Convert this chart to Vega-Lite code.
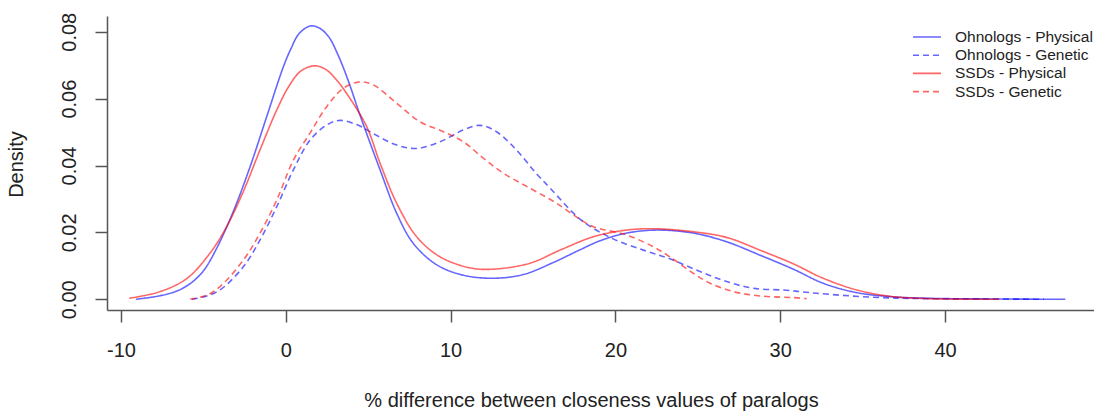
{
  "$schema": "https://vega.github.io/schema/vega-lite/v6.json",
  "width": 987,
  "height": 294,
  "autosize": {"type": "none"},
  "padding": {"left": 107, "top": 16, "right": 0, "bottom": 101},
  "background": "white",
  "config": {
    "view": {"stroke": null},
    "font": "Liberation Sans"
  },
  "datasets": {
    "curves": [
      {"series": "Ohnologs - Physical", "x": -9.1, "density": 0.0},
      {"series": "Ohnologs - Physical", "x": -7.6, "density": 0.0011},
      {"series": "Ohnologs - Physical", "x": -6.6, "density": 0.0025},
      {"series": "Ohnologs - Physical", "x": -5.8, "density": 0.0047},
      {"series": "Ohnologs - Physical", "x": -5.0, "density": 0.0085},
      {"series": "Ohnologs - Physical", "x": -4.2, "density": 0.0152},
      {"series": "Ohnologs - Physical", "x": -3.19, "density": 0.0262},
      {"series": "Ohnologs - Physical", "x": -2.17, "density": 0.0396},
      {"series": "Ohnologs - Physical", "x": -1.16, "density": 0.0546},
      {"series": "Ohnologs - Physical", "x": -0.15, "density": 0.0695},
      {"series": "Ohnologs - Physical", "x": 0.3, "density": 0.0748},
      {"series": "Ohnologs - Physical", "x": 0.8, "density": 0.0794},
      {"series": "Ohnologs - Physical", "x": 1.47, "density": 0.0817},
      {"series": "Ohnologs - Physical", "x": 2.0, "density": 0.0812},
      {"series": "Ohnologs - Physical", "x": 2.6, "density": 0.0785},
      {"series": "Ohnologs - Physical", "x": 3.2, "density": 0.0727},
      {"series": "Ohnologs - Physical", "x": 3.8, "density": 0.0652},
      {"series": "Ohnologs - Physical", "x": 4.5, "density": 0.0551},
      {"series": "Ohnologs - Physical", "x": 5.72, "density": 0.0387},
      {"series": "Ohnologs - Physical", "x": 6.73, "density": 0.0257},
      {"series": "Ohnologs - Physical", "x": 7.74, "density": 0.0167},
      {"series": "Ohnologs - Physical", "x": 9.16, "density": 0.0103},
      {"series": "Ohnologs - Physical", "x": 10.77, "density": 0.0072},
      {"series": "Ohnologs - Physical", "x": 12.59, "density": 0.0063},
      {"series": "Ohnologs - Physical", "x": 14.41, "density": 0.0074},
      {"series": "Ohnologs - Physical", "x": 16.23, "density": 0.011},
      {"series": "Ohnologs - Physical", "x": 17.85, "density": 0.0148},
      {"series": "Ohnologs - Physical", "x": 19.07, "density": 0.0175},
      {"series": "Ohnologs - Physical", "x": 20.69, "density": 0.0198},
      {"series": "Ohnologs - Physical", "x": 22.5, "density": 0.0207},
      {"series": "Ohnologs - Physical", "x": 24.72, "density": 0.0198},
      {"series": "Ohnologs - Physical", "x": 26.75, "density": 0.0172},
      {"series": "Ohnologs - Physical", "x": 28.77, "density": 0.0132},
      {"series": "Ohnologs - Physical", "x": 30.8, "density": 0.009},
      {"series": "Ohnologs - Physical", "x": 32.6, "density": 0.0048},
      {"series": "Ohnologs - Physical", "x": 34.64, "density": 0.002},
      {"series": "Ohnologs - Physical", "x": 36.66, "density": 0.0008},
      {"series": "Ohnologs - Physical", "x": 39.0, "density": 0.0003},
      {"series": "Ohnologs - Physical", "x": 43.0, "density": 0.0001},
      {"series": "Ohnologs - Physical", "x": 47.3, "density": 0.0},

      {"series": "Ohnologs - Genetic", "x": -5.7, "density": 0.0},
      {"series": "Ohnologs - Genetic", "x": -4.8, "density": 0.001},
      {"series": "Ohnologs - Genetic", "x": -3.99, "density": 0.0028},
      {"series": "Ohnologs - Genetic", "x": -2.58, "density": 0.0097},
      {"series": "Ohnologs - Genetic", "x": -1.57, "density": 0.0177},
      {"series": "Ohnologs - Genetic", "x": -0.55, "density": 0.0277},
      {"series": "Ohnologs - Genetic", "x": 0.46, "density": 0.0387},
      {"series": "Ohnologs - Genetic", "x": 1.47, "density": 0.0476},
      {"series": "Ohnologs - Genetic", "x": 2.48, "density": 0.0521},
      {"series": "Ohnologs - Genetic", "x": 3.29, "density": 0.0535},
      {"series": "Ohnologs - Genetic", "x": 4.5, "density": 0.0518},
      {"series": "Ohnologs - Genetic", "x": 5.11, "density": 0.0501},
      {"series": "Ohnologs - Genetic", "x": 6.73, "density": 0.0461},
      {"series": "Ohnologs - Genetic", "x": 7.94, "density": 0.0451},
      {"series": "Ohnologs - Genetic", "x": 9.36, "density": 0.0471},
      {"series": "Ohnologs - Genetic", "x": 10.77, "density": 0.0506},
      {"series": "Ohnologs - Genetic", "x": 11.78, "density": 0.052},
      {"series": "Ohnologs - Genetic", "x": 12.79, "density": 0.0501},
      {"series": "Ohnologs - Genetic", "x": 14.0, "density": 0.0446},
      {"series": "Ohnologs - Genetic", "x": 15.22, "density": 0.0375},
      {"series": "Ohnologs - Genetic", "x": 16.03, "density": 0.0333},
      {"series": "Ohnologs - Genetic", "x": 17.85, "density": 0.024},
      {"series": "Ohnologs - Genetic", "x": 19.67, "density": 0.0185},
      {"series": "Ohnologs - Genetic", "x": 21.7, "density": 0.0147},
      {"series": "Ohnologs - Genetic", "x": 23.3, "density": 0.0121},
      {"series": "Ohnologs - Genetic", "x": 25.13, "density": 0.0083},
      {"series": "Ohnologs - Genetic", "x": 26.75, "density": 0.0053},
      {"series": "Ohnologs - Genetic", "x": 28.36, "density": 0.0033},
      {"series": "Ohnologs - Genetic", "x": 30.39, "density": 0.0027},
      {"series": "Ohnologs - Genetic", "x": 32.2, "density": 0.0018},
      {"series": "Ohnologs - Genetic", "x": 35.65, "density": 0.0006},
      {"series": "Ohnologs - Genetic", "x": 38.7, "density": 0.0002},
      {"series": "Ohnologs - Genetic", "x": 42.7, "density": 0.0001},
      {"series": "Ohnologs - Genetic", "x": 46.0, "density": 0.0},

      {"series": "SSDs - Physical", "x": -9.5, "density": 0.0003},
      {"series": "SSDs - Physical", "x": -7.63, "density": 0.0023},
      {"series": "SSDs - Physical", "x": -6.01, "density": 0.0062},
      {"series": "SSDs - Physical", "x": -4.6, "density": 0.0138},
      {"series": "SSDs - Physical", "x": -3.59, "density": 0.0217},
      {"series": "SSDs - Physical", "x": -2.58, "density": 0.0322},
      {"series": "SSDs - Physical", "x": -1.57, "density": 0.0446},
      {"series": "SSDs - Physical", "x": -0.55, "density": 0.0566},
      {"series": "SSDs - Physical", "x": 0.2, "density": 0.0638},
      {"series": "SSDs - Physical", "x": 0.9, "density": 0.0682},
      {"series": "SSDs - Physical", "x": 1.71, "density": 0.0698},
      {"series": "SSDs - Physical", "x": 2.4, "density": 0.0688},
      {"series": "SSDs - Physical", "x": 3.09, "density": 0.0655},
      {"series": "SSDs - Physical", "x": 3.9, "density": 0.0600},
      {"series": "SSDs - Physical", "x": 4.91, "density": 0.0516},
      {"series": "SSDs - Physical", "x": 5.72, "density": 0.0407},
      {"series": "SSDs - Physical", "x": 6.73, "density": 0.0287},
      {"series": "SSDs - Physical", "x": 7.94, "density": 0.0187},
      {"series": "SSDs - Physical", "x": 9.36, "density": 0.0127},
      {"series": "SSDs - Physical", "x": 11.18, "density": 0.0094},
      {"series": "SSDs - Physical", "x": 12.59, "density": 0.009},
      {"series": "SSDs - Physical", "x": 14.82, "density": 0.0108},
      {"series": "SSDs - Physical", "x": 16.64, "density": 0.0147},
      {"series": "SSDs - Physical", "x": 18.66, "density": 0.0187},
      {"series": "SSDs - Physical", "x": 20.69, "density": 0.0207},
      {"series": "SSDs - Physical", "x": 22.3, "density": 0.0211},
      {"series": "SSDs - Physical", "x": 24.72, "density": 0.0202},
      {"series": "SSDs - Physical", "x": 26.75, "density": 0.0185},
      {"series": "SSDs - Physical", "x": 28.77, "density": 0.0147},
      {"series": "SSDs - Physical", "x": 30.8, "density": 0.0106},
      {"series": "SSDs - Physical", "x": 32.6, "density": 0.0063},
      {"series": "SSDs - Physical", "x": 34.64, "density": 0.0028},
      {"series": "SSDs - Physical", "x": 36.66, "density": 0.0009},
      {"series": "SSDs - Physical", "x": 39.0, "density": 0.0002},
      {"series": "SSDs - Physical", "x": 43.3, "density": 0.0},

      {"series": "SSDs - Genetic", "x": -5.8, "density": 0.0},
      {"series": "SSDs - Genetic", "x": -4.8, "density": 0.0012},
      {"series": "SSDs - Genetic", "x": -3.99, "density": 0.0038},
      {"series": "SSDs - Genetic", "x": -2.58, "density": 0.0117},
      {"series": "SSDs - Genetic", "x": -1.57, "density": 0.0197},
      {"series": "SSDs - Genetic", "x": -0.55, "density": 0.0297},
      {"series": "SSDs - Genetic", "x": 0.46, "density": 0.0416},
      {"series": "SSDs - Genetic", "x": 1.47, "density": 0.0497},
      {"series": "SSDs - Genetic", "x": 2.48, "density": 0.0576},
      {"series": "SSDs - Genetic", "x": 3.49, "density": 0.0631},
      {"series": "SSDs - Genetic", "x": 4.5, "density": 0.065},
      {"series": "SSDs - Genetic", "x": 5.31, "density": 0.0641},
      {"series": "SSDs - Genetic", "x": 6.73, "density": 0.0586},
      {"series": "SSDs - Genetic", "x": 8.14, "density": 0.0531},
      {"series": "SSDs - Genetic", "x": 9.56, "density": 0.0501},
      {"series": "SSDs - Genetic", "x": 10.77, "density": 0.0471},
      {"series": "SSDs - Genetic", "x": 11.98, "density": 0.0422},
      {"series": "SSDs - Genetic", "x": 13.2, "density": 0.0377},
      {"series": "SSDs - Genetic", "x": 14.82, "density": 0.0332},
      {"series": "SSDs - Genetic", "x": 16.43, "density": 0.0287},
      {"series": "SSDs - Genetic", "x": 17.85, "density": 0.0239},
      {"series": "SSDs - Genetic", "x": 18.66, "density": 0.0217},
      {"series": "SSDs - Genetic", "x": 20.69, "density": 0.0192},
      {"series": "SSDs - Genetic", "x": 22.3, "density": 0.0157},
      {"series": "SSDs - Genetic", "x": 23.3, "density": 0.0127},
      {"series": "SSDs - Genetic", "x": 24.72, "density": 0.0078},
      {"series": "SSDs - Genetic", "x": 25.74, "density": 0.0048},
      {"series": "SSDs - Genetic", "x": 27.16, "density": 0.0023},
      {"series": "SSDs - Genetic", "x": 28.77, "density": 0.001},
      {"series": "SSDs - Genetic", "x": 30.8, "density": 0.0005},
      {"series": "SSDs - Genetic", "x": 31.6, "density": 0.0002}
    ]
  },
  "layer": [
    {
      "mark": {"type": "rule", "color": "#eeeeee", "strokeWidth": 1},
      "encoding": {"y": {"datum": 0, "type": "quantitative"}}
    },
    {
      "data": {"name": "curves"},
      "mark": {"type": "line", "interpolate": "catmull-rom", "strokeWidth": 1.6, "opacity": 0.6, "clip": true},
      "encoding": {
        "x": {
          "field": "x", "type": "quantitative",
          "scale": {"domain": [-10.85, 49.04], "nice": false, "zero": false},
          "axis": {
            "values": [-10, 0, 10, 20, 30, 40],
            "labelExpr": "'' + datum.value",
            "grid": false,
            "tickSize": 12, "tickColor": "#555", "tickWidth": 1.5,
            "domainColor": "#555", "domainWidth": 1.5,
            "labelFontSize": 20, "labelColor": "#222", "labelPadding": 18, "labelFlush": false,
            "title": "% difference between closeness values of paralogs",
            "titleFontSize": 20, "titleFontWeight": "normal", "titleColor": "#222",
            "titleBaseline": "alphabetic", "titleAlign": "center", "titleX": 484, "titleY": 96
          }
        },
        "y": {
          "field": "density", "type": "quantitative",
          "scale": {"domain": [-0.0032, 0.0847], "nice": false, "zero": false},
          "axis": {
            "values": [0, 0.02, 0.04, 0.06, 0.08],
            "format": ".2f",
            "grid": false,
            "tickSize": 12, "tickColor": "#555", "tickWidth": 1.5,
            "domainColor": "#555", "domainWidth": 1.5,
            "labelFontSize": 20, "labelColor": "#222", "labelPadding": 16, "labelAngle": 270,
            "labelAlign": "center", "labelBaseline": "bottom", "labelFlush": false,
            "title": "Density",
            "titleFontSize": 20, "titleFontWeight": "normal", "titleColor": "#222",
            "titleBaseline": "alphabetic", "titleAlign": "center", "titleX": -85, "titleY": 148, "titleAngle": 270
          }
        },
        "color": {
          "field": "series", "type": "nominal",
          "scale": {
            "domain": ["Ohnologs - Physical", "Ohnologs - Genetic", "SSDs - Physical", "SSDs - Genetic"],
            "range": ["blue", "blue", "red", "red"]
          },
          "legend": {
            "orient": "none", "legendX": 805, "legendY": 12, "title": null,
            "symbolType": "stroke", "symbolSize": 784, "symbolStrokeWidth": 1.6, "symbolOpacity": 0.6,
            "labelFontSize": 15.5, "labelColor": "#222", "labelOffset": 13,
            "clipHeight": 18, "rowPadding": 0.2, "padding": 0
          }
        },
        "strokeDash": {
          "field": "series", "type": "nominal",
          "scale": {
            "domain": ["Ohnologs - Physical", "Ohnologs - Genetic", "SSDs - Physical", "SSDs - Genetic"],
            "range": [[1, 0], [6, 4], [1, 0], [6, 4]]
          },
          "legend": {
            "orient": "none", "legendX": 805, "legendY": 12, "title": null,
            "symbolType": "stroke", "symbolSize": 784, "symbolStrokeWidth": 1.6, "symbolOpacity": 0.6,
            "labelFontSize": 15.5, "labelColor": "#222", "labelOffset": 13,
            "clipHeight": 18, "rowPadding": 0.2, "padding": 0
          }
        }
      }
    },
    {
      "mark": {"type": "rule", "color": "#555", "strokeWidth": 1.5},
      "encoding": {"y": {"datum": 0.0847, "type": "quantitative"}}
    }
  ]
}
